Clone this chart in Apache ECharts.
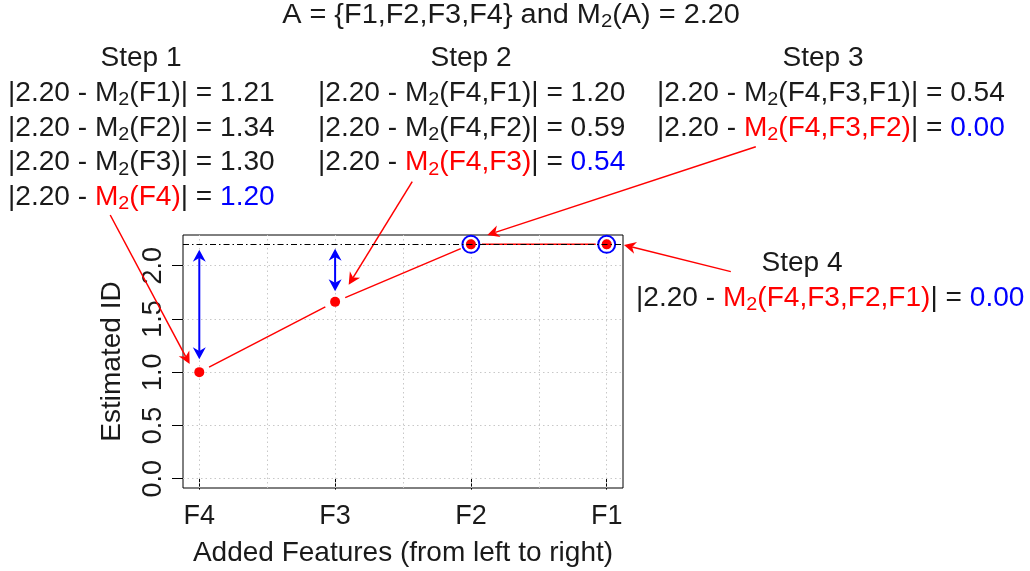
<!DOCTYPE html>
<html>
<head>
<meta charset="utf-8">
<style>
  html, body { margin: 0; padding: 0; background: #fff; }
  #chart { width: 1030px; height: 571px; }
</style>
</head>
<body>
<div id="chart"></div>
<script src="https://cdn.jsdelivr.net/npm/echarts@6/dist/echarts.min.js"></script>
<script>
// features in the order they were added
const features = ['F4', 'F3', 'F2', 'F1']
const estimatedId = [1.00, 1.66, 2.20, 2.20]
const fullId = 2.20
const circled = [2, 3]

const xTicks = [1, 2, 3, 4]
const yTicks = [0, 0.5, 1, 1.5, 2]
const xGrid = [1, 1.5, 2, 2.5, 3, 3.5, 4]

// candidate sets tried at each step and |M2(A) - M2(set)|
const step1Sets = ['F1', 'F2', 'F3', 'F4']
const step1Diff = [1.21, 1.34, 1.30, 1.20]
const step2Sets = ['F4,F1', 'F4,F2', 'F4,F3']
const step2Diff = [1.20, 0.59, 0.54]
const step3Sets = ['F4,F3,F1', 'F4,F3,F2']
const step3Diff = [0.54, 0.00]
const step4Sets = ['F4,F3,F2,F1']
const step4Diff = [0.00]

// blue arrows showing the remaining gap: [x, yFrom, yTo]
const gapArrows = [[1, 1.12, 2.15], [2, 1.76, 2.16]]
// red pointers from the text to the chosen point: [x0, y0, x1, y1]
const pointers = [
  [0.344, 2.476, 0.929, 1.077],
  [2.568, 2.789, 2.100, 1.821],
  [5.098, 3.117, 3.121, 2.288],
  [4.914, 1.944, 4.127, 2.194]
]

const FONT = '"Liberation Sans", Arial, sans-serif'
const BLACK = '#1a1a1a'
const RED = '#ff0000'
const BLUE = '#0000ff'

const rich = {
  k: { fill: BLACK, fontSize: 27, lineHeight: 32, fontFamily: FONT },
  r: { fill: RED, fontSize: 27, lineHeight: 32, fontFamily: FONT },
  b: { fill: BLUE, fontSize: 27, lineHeight: 32, fontFamily: FONT },
  ks: { fill: BLACK, fontSize: 19, lineHeight: 20, verticalAlign: 'bottom', fontFamily: FONT },
  rs: { fill: RED, fontSize: 19, lineHeight: 20, verticalAlign: 'bottom', fontFamily: FONT }
}

function stepLine(set, diff, chosen) {
  const c = chosen ? 'r' : 'k'
  return '{k||' + fullId.toFixed(2) + ' - }{' + c + '|M}{' + c + 's|2}{' + c + '|(' + set + ')}' +
    '{k|| = }{' + (chosen ? 'b' : 'k') + '|' + diff.toFixed(2) + '}'
}

function textEl(text, x, y, align, sx) {
  return {
    type: 'text', x: x, y: y, scaleX: sx || 1.04, silent: true,
    style: {
      text: text, rich: rich, fill: BLACK, fontSize: 27, lineHeight: 32, fontFamily: FONT,
      align: align, verticalAlign: 'middle'
    }
  }
}

function stepBlock(title, sets, diffs, cx, left, top) {
  const best = diffs.indexOf(Math.min.apply(null, diffs))
  const els = [textEl(title, cx, top, 'center')]
  sets.forEach((s, i) => {
    els.push(textEl(stepLine(s, diffs[i], i === best), left, top + 34.6 * (i + 1), 'left'))
  })
  return els
}

const graphics = [].concat(
  [textEl('A = {F1,F2,F3,F4} and M{ks|2}(A) = ' + fullId.toFixed(2), 511, 15.5, 'center', 1.07)],
  stepBlock('Step 1', step1Sets, step1Diff, 141, 8, 59),
  stepBlock('Step 2', step2Sets, step2Diff, 471, 318, 59),
  stepBlock('Step 3', step3Sets, step3Diff, 823, 657, 59),
  stepBlock('Step 4', step4Sets, step4Diff, 802, 636, 264)
)

function arrowHead(tip, from, len, wid) {
  const dx = tip[0] - from[0], dy = tip[1] - from[1]
  const d = Math.sqrt(dx * dx + dy * dy)
  const ux = dx / d, uy = dy / d
  const px = -uy, py = ux
  const bx = tip[0] - ux * len, by = tip[1] - uy * len
  const nx = tip[0] - ux * len * 0.7, ny = tip[1] - uy * len * 0.7
  return {
    notch: [nx, ny],
    points: [tip, [bx + px * wid / 2, by + py * wid / 2], [nx, ny], [bx - px * wid / 2, by - py * wid / 2]]
  }
}

const gridLines = xGrid.map(v => ({ xAxis: v })).concat(yTicks.map(v => ({ yAxis: v })))

const chart = echarts.init(document.getElementById('chart'))

chart.setOption({
  animation: false,
  backgroundColor: '#fff',
  textStyle: { fontFamily: FONT },
  graphic: graphics,
  grid: {
    left: 183, right: 407, top: 235, bottom: 83,
    show: true, borderColor: '#000', borderWidth: 1,
    outerBoundsMode: 'none'
  },
  xAxis: {
    type: 'value', min: 0.88, max: 4.12,
    axisLine: { show: false },
    splitLine: { show: false },
    axisTick: { show: true, customValues: xTicks, length: 11, lineStyle: { color: '#000' } },
    axisLabel: { customValues: xTicks, formatter: v => features[v - 1], fontSize: 27, color: BLACK, margin: 15 },
    name: 'Added Features (from left to right)',
    nameLocation: 'middle', nameGap: 51,
    nameTextStyle: { fontSize: 28, color: BLACK }
  },
  yAxis: {
    type: 'value', min: -0.088, max: 2.288,
    axisLine: { show: false },
    splitLine: { show: false },
    axisTick: { show: true, customValues: yTicks, length: 11, lineStyle: { color: '#000' } },
    axisLabel: { customValues: yTicks, formatter: v => v.toFixed(1), rotate: 90, fontSize: 27, color: BLACK, margin: 16 },
    name: 'Estimated ID',
    nameLocation: 'middle', nameGap: 57,
    nameTextStyle: { fontSize: 28, color: BLACK }
  },
  series: [
    {
      // dotted background grid
      type: 'scatter', data: [], silent: true, z: 1,
      markLine: {
        silent: true, symbol: 'none', label: { show: false }, animation: false, z: 1,
        lineStyle: { color: '#c8c8c8', width: 1, type: [1.5, 3] },
        data: gridLines
      }
    },
    {
      // reference level M2(A)
      type: 'scatter', data: [], silent: true, z: 6,
      markLine: {
        silent: true, symbol: 'none', label: { show: false }, animation: false, z: 6,
        lineStyle: { color: '#000', width: 1, type: [6, 3, 1.5, 3] },
        data: [{ yAxis: fullId }]
      }
    },
    {
      // red connecting segments with gaps round the points
      type: 'custom', silent: true, z: 3,
      data: estimatedId.map((v, i) => [i + 1, v]),
      renderItem: function (params, api) {
        const i = params.dataIndex
        if (i >= estimatedId.length - 1) return
        const a = api.coord([i + 1, estimatedId[i]])
        const b = api.coord([i + 2, estimatedId[i + 1]])
        const dx = b[0] - a[0], dy = b[1] - a[1]
        const d = Math.sqrt(dx * dx + dy * dy)
        const g = 11
        return {
          type: 'line',
          shape: { x1: a[0] + dx / d * g, y1: a[1] + dy / d * g, x2: b[0] - dx / d * g, y2: b[1] - dy / d * g },
          style: { stroke: RED, lineWidth: 1.5 }
        }
      }
    },
    {
      type: 'scatter', silent: true, z: 4,
      data: estimatedId.map((v, i) => [i + 1, v]),
      symbol: 'circle', symbolSize: 10,
      itemStyle: { color: RED, opacity: 1 }
    },
    {
      type: 'scatter', silent: true, z: 4,
      data: circled.map(i => [i + 1, estimatedId[i]]),
      symbol: 'circle', symbolSize: 17,
      itemStyle: { color: 'transparent', borderColor: BLUE, borderWidth: 2, opacity: 1 }
    },
    {
      // blue double arrows
      type: 'custom', silent: true, z: 5,
      data: gapArrows,
      renderItem: function (params, api) {
        const a = api.coord([api.value(0), api.value(1)])
        const b = api.coord([api.value(0), api.value(2)])
        const h1 = arrowHead(a, b, 12, 13)
        const h2 = arrowHead(b, a, 12, 13)
        return {
          type: 'group',
          children: [
            { type: 'line', shape: { x1: h1.notch[0], y1: h1.notch[1], x2: h2.notch[0], y2: h2.notch[1] }, style: { stroke: BLUE, lineWidth: 2 } },
            { type: 'polygon', shape: { points: h1.points }, style: { fill: BLUE } },
            { type: 'polygon', shape: { points: h2.points }, style: { fill: BLUE } }
          ]
        }
      }
    },
    {
      // red pointers from the text
      type: 'custom', silent: true, z: 5, clip: false,
      data: pointers,
      renderItem: function (params, api) {
        const a = api.coord([api.value(0), api.value(1)])
        const b = api.coord([api.value(2), api.value(3)])
        const h = arrowHead(b, a, 12, 12)
        return {
          type: 'group',
          children: [
            { type: 'line', shape: { x1: a[0], y1: a[1], x2: h.notch[0], y2: h.notch[1] }, style: { stroke: RED, lineWidth: 1.5 } },
            { type: 'polygon', shape: { points: h.points }, style: { fill: RED } }
          ]
        }
      }
    }
  ]
})
</script>
</body>
</html>
